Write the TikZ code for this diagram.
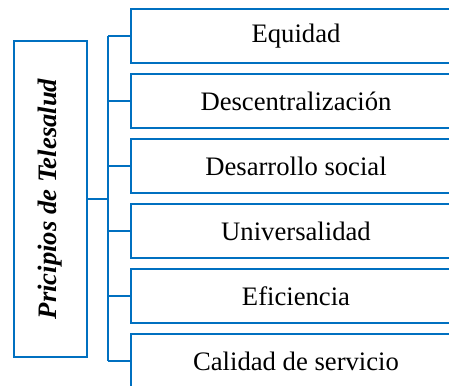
\documentclass[tikz,border=0pt]{standalone}
\usepackage{fontspec}
\setmainfont{Liberation Serif}
\definecolor{tblue}{HTML}{0070C0}
\begin{document}
\begin{tikzpicture}[x=0.75pt,y=-0.75pt,
  line width=1.8pt,
  item/.style={draw=tblue, fill=white, minimum width=247.5pt, minimum height=40.5pt, inner sep=0pt,
    font=\fontsize{20}{24}\selectfont},
  mainbox/.style={draw=tblue, fill=white, minimum width=54.75pt, minimum height=237pt, inner sep=0pt},
  conn/.style={draw=tblue, line width=1.8pt}]
\useasboundingbox (0,0) rectangle (449,385);
\clip (0,0) rectangle (449,385);
\node[mainbox] (main) at (50.5,199) {};
\node[rotate=90, font=\fontsize{20}{24}\selectfont\bfseries\itshape] (title) at (main.center) {Pricipios de Telesalud};
\coordinate (bus) at (108,0);
\node[item] (b1) at (296,36) {Equidad};
\node[item] (b2) at (296,101) {Descentralización};
\node[item] (b3) at (296,166) {Desarrollo social};
\node[item] (b4) at (296,231) {Universalidad};
\node[item] (b5) at (296,296) {Eficiencia};
\node[item] (b6) at (296,361) {Calidad de servicio};
\draw[conn] (main.east) -- (bus |- main.east);
\draw[conn] (bus |- b1.west) -- (bus |- b6.west);
\foreach \n in {b1,b2,b3,b4,b5,b6}{
  \draw[conn] (bus |- \n.west) -- (\n.west);
}
\end{tikzpicture}
\end{document}
